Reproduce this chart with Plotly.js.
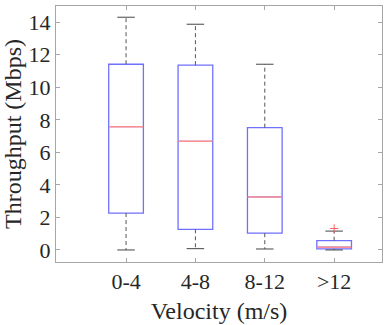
<!DOCTYPE html>
<html>
<head>
<meta charset="utf-8">
<script src="https://cdn.plot.ly/plotly-3.0.1.min.js"></script>
<style>body{margin:0;background:#fff}#myDiv{width:386px;height:325px}</style>
</head>
<body>
<div id="myDiv"></div>
<script>
var categories = ["0-4", "4-8", "8-12", ">12"];
var lowerWhisker = [0.0, 0.08, 0.06, 0.0];
var q1 = [2.27, 1.27, 1.03, 0.07];
var median = [7.58, 6.68, 3.26, 0.17];
var q3 = [11.42, 11.36, 7.52, 0.57];
var upperWhisker = [14.31, 13.88, 11.42, 1.16];
var outlierCat = [">12"];
var outlierVal = [1.32];
var yTicks = [0, 2, 4, 6, 8, 10, 12, 14];

// dashed whiskers
var wx = [], wy = [];
categories.forEach(function (c, i) {
  wx.push(c, c, null, c, c, null);
  wy.push(q3[i], upperWhisker[i], null, q1[i], lowerWhisker[i], null);
});
var whiskers = {
  x: wx, y: wy, type: "scatter", mode: "lines",
  line: {color: "#555", width: 1, dash: "4px,3px"},
  hoverinfo: "skip"
};

// line-ew length is 1.4 * size
var caps = {
  x: categories.concat(categories),
  y: upperWhisker.concat(lowerWhisker),
  type: "scatter", mode: "markers",
  marker: {symbol: "line-ew", size: 12.5, color: "#444", line: {color: "#444", width: 1}}
};

var boxes = {
  type: "box",
  x: categories,
  q1: q1, median: median, q3: q3,
  lowerfence: q1, upperfence: q3,
  width: 0.5,
  boxpoints: false,
  fillcolor: "rgba(0,0,0,0)",
  line: {color: "#7070ff", width: 1.3}
};

var medians = {
  x: categories, y: median,
  type: "scatter", mode: "markers",
  marker: {symbol: "line-ew", size: 24.5, color: "#ff9090", line: {color: "#ff9090", width: 1.5}}
};

var outliers = {
  x: outlierCat, y: outlierVal,
  type: "scatter", mode: "markers",
  marker: {symbol: "cross-thin", size: 6, color: "#ff6060", line: {color: "#ff6060", width: 1}}
};

var data = [whiskers, caps, boxes, medians, outliers];

var serif = "'Liberation Serif', 'Times New Roman', 'DejaVu Serif', serif";

var layout = {
  width: 386, height: 325,
  margin: {l: 56, r: 4, t: 6, b: 63},
  showlegend: false,
  boxmode: "overlay",
  paper_bgcolor: "#fff", plot_bgcolor: "#fff",
  font: {family: serif, size: 22, color: "#262626"},
  xaxis: {
    type: "category",
    categoryorder: "array", categoryarray: categories,
    range: [-1.01, 3.69],
    showline: true, mirror: "ticks", linecolor: "#a6a6a6", linewidth: 1,
    ticks: "inside", ticklen: 4, tickcolor: "#a6a6a6",
    showgrid: false, zeroline: false,
    tickfont: {family: serif, size: 22},
    title: {text: "Velocity (m/s)", font: {family: serif, size: 24}, standoff: 8}
  },
  yaxis: {
    range: [-0.74, 15.0],
    tickvals: yTicks,
    showline: true, mirror: "ticks", linecolor: "#a6a6a6", linewidth: 1,
    ticks: "inside", ticklen: 4, tickcolor: "#a6a6a6",
    showgrid: false, zeroline: false,
    tickfont: {family: serif, size: 22},
    title: {text: "Throughput (Mbps)", font: {family: serif, size: 24}, standoff: 0}
  }
};

Plotly.newPlot("myDiv", data, layout, {staticPlot: true});
</script>
</body>
</html>
